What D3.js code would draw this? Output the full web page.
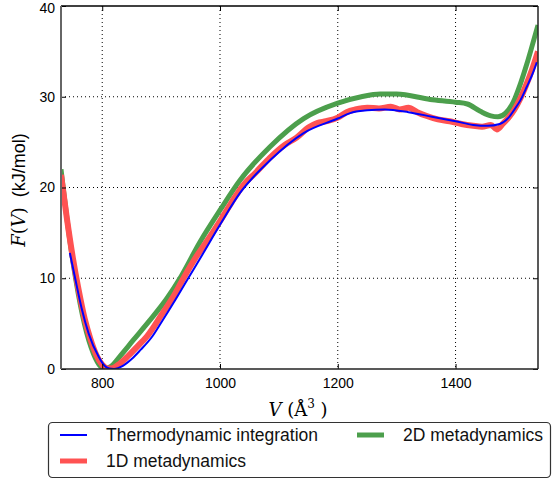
<!DOCTYPE html>
<html><head><meta charset="utf-8">
<script src="https://cdn.jsdelivr.net/npm/d3@7"></script>
<style>
html,body{margin:0;padding:0;background:#fff;}
svg text{font-family:"Liberation Sans",Arial,sans-serif;}
</style></head>
<body>
<svg id="chart" width="560" height="481"></svg>
<script>
// ---- data ----
const xTicks = [800, 1000, 1200, 1400];
const yTicks = [0, 10, 20, 30, 40];
const seriesNames = ["Thermodynamic integration", "1D metadynamics", "2D metadynamics"];

const tiV = [745,754,765,777,794,805,812,820,835,850,865,884,900,924,946,970,1000,1034,1085,1142,1200,1221,1250,1280,1320,1360,1400,1430,1455,1475,1490,1500,1510,1521,1530,1538];
const tiF = [12.8,10.0,6.7,3.9,1.35,0.3,0.05,0.0,0.35,1.1,2.1,3.5,5.1,7.6,10.0,12.6,15.9,19.4,23.0,26.0,27.6,28.2,28.5,28.6,28.3,27.8,27.3,26.9,26.8,27.0,27.7,28.6,29.6,31.1,32.4,33.8];

const md1V = [730,740,750,760,770,780,790,800,810,818,830,845,860,876,900,920,938,960,980,1000,1020,1040,1060,1085,1110,1130,1150,1165,1180,1200,1215,1230,1250,1270,1290,1305,1320,1335,1350,1370,1390,1410,1430,1445,1460,1470,1480,1490,1500,1510,1520,1530,1540];
const md1F = [21.4,16.6,12.3,8.7,5.6,3.3,1.55,0.46,0.05,0.1,0.6,1.5,2.5,3.6,5.9,7.9,10.0,12.4,14.3,16.3,18.4,20.3,21.6,23.3,24.7,25.5,26.6,27.1,27.3,27.7,28.3,28.6,28.8,28.7,28.9,28.6,28.8,28.3,27.9,27.5,27.3,27.0,26.8,26.7,26.9,26.4,27.0,27.7,28.6,29.8,31.3,33.0,35.0];

const md2V = [730,740,755,770,785,797,806,815,830,853,880,910,932,966,1000,1034,1085,1142,1200,1240,1272,1300,1357,1400,1420,1442,1460,1472,1485,1498,1510,1521,1530,1540];
const md2F = [22.0,16.6,9.9,4.9,1.7,0.3,0.05,0.3,1.4,3.2,5.3,7.8,10.0,14.0,17.5,20.8,24.5,27.6,29.3,30.0,30.3,30.3,29.7,29.4,29.2,28.4,27.9,27.8,28.2,29.4,31.4,33.6,35.6,37.9];

// ---- layout ----
const svg = d3.select("#chart");
const L = 61, R = 538, T = 6, B = 369;
const x = d3.scaleLinear().domain([730, 1540]).range([L, R]);
const y = d3.scaleLinear().domain([0, 40]).range([B, T]);

svg.append("defs").append("clipPath").attr("id","clip")
  .append("rect").attr("x",L).attr("y",T).attr("width",R-L).attr("height",B-T);

// grid
const g = svg.append("g");
g.selectAll(".gx").data(xTicks).enter().append("line")
  .attr("x1",d=>x(d)).attr("x2",d=>x(d)).attr("y1",T).attr("y2",B)
  .attr("stroke","#000").attr("stroke-width",1).attr("stroke-dasharray","1,3");
g.selectAll(".gy").data(yTicks.filter(d=>d>0 && d<40)).enter().append("line")
  .attr("y1",d=>y(d)).attr("y2",d=>y(d)).attr("x1",L).attr("x2",R)
  .attr("stroke","#000").attr("stroke-width",1).attr("stroke-dasharray","1,3");

// curves
const line = d3.line().x(d=>x(d[0])).y(d=>y(d[1])).curve(d3.curveMonotoneX);
const zip = (a,b)=>a.map((v,i)=>[v,b[i]]);
const plot = svg.append("g").attr("clip-path","url(#clip)");
plot.append("path").datum(zip(md2V,md2F)).attr("d",line)
  .attr("fill","none").attr("stroke","#4c9f4c").attr("stroke-width",5).attr("stroke-linejoin","round");
plot.append("path").datum(zip(md1V,md1F)).attr("d",line)
  .attr("fill","none").attr("stroke","#ff5252").attr("stroke-width",6).attr("stroke-linejoin","round");
plot.append("path").datum(zip(tiV,tiF)).attr("d",line)
  .attr("fill","none").attr("stroke","#0000ff").attr("stroke-width",2).attr("stroke-linejoin","round");

// axes
const fmt = d3.format("d");
const xAxis = svg.append("g").attr("transform",`translate(0,${B})`)
  .call(d3.axisBottom(x).tickValues(xTicks).tickSize(-5).tickPadding(9).tickFormat(fmt));
const yAxis = svg.append("g").attr("transform",`translate(${L},0)`)
  .call(d3.axisLeft(y).tickValues(yTicks).tickSize(-5).tickPadding(6).tickFormat(fmt));
svg.append("g").attr("transform",`translate(0,${T})`)
  .call(d3.axisTop(x).tickValues(xTicks).tickSize(-5).tickFormat(""));
svg.append("g").attr("transform",`translate(${R},0)`)
  .call(d3.axisRight(y).tickValues(yTicks).tickSize(-5).tickFormat(""));
svg.selectAll(".domain").remove();
svg.selectAll(".tick line").attr("stroke","#000");
[xAxis,yAxis].forEach(a=>a.selectAll("text").attr("font-size",14).attr("fill","#000")
  .style("font-family","'Liberation Sans',Arial,sans-serif"));
yAxis.selectAll(".tick").filter(d=>d===40).select("text").attr("dy","0.45em");

// frame
svg.append("line").attr("x1",L).attr("x2",R).attr("y1",T).attr("y2",T).attr("stroke","#000").attr("stroke-width",1.3);
svg.append("line").attr("x1",R).attr("x2",R).attr("y1",T).attr("y2",B).attr("stroke","#222").attr("stroke-width",1.5);
svg.append("line").attr("x1",L).attr("x2",R).attr("y1",B).attr("y2",B).attr("stroke","#222").attr("stroke-width",1.6);
svg.append("line").attr("x1",L).attr("x2",L).attr("y1",T).attr("y2",B).attr("stroke","#666").attr("stroke-width",2);

// axis labels
const serif = "'DejaVu Serif','Liberation Serif',serif";
const xl = svg.append("text").attr("x",298).attr("y",416).attr("text-anchor","middle")
  .attr("font-size",18).style("font-family",serif);
xl.append("tspan").attr("font-style","italic").text("V");
xl.append("tspan").text("\u00a0(Å");
xl.append("tspan").attr("dy",-8).attr("font-size",12).text("3");
xl.append("tspan").attr("dy",8).text("\u00a0)");

const yl = svg.append("text").attr("transform","translate(25,190) rotate(-90)")
  .attr("text-anchor","middle").attr("font-size",18);
yl.append("tspan").attr("font-style","italic").style("font-family",serif).text("F");
yl.append("tspan").style("font-family",serif).text("(");
yl.append("tspan").attr("font-style","italic").style("font-family",serif).text("V");
yl.append("tspan").style("font-family",serif).text(")");
yl.append("tspan").text("\u00a0\u00a0(kJ/mol)");

// legend
const lg = svg.append("g");
lg.append("rect").attr("x",48.5).attr("y",422.5).attr("width",502).attr("height",55)
  .attr("rx",4).attr("fill","#fff").attr("stroke","#333").attr("stroke-width",1.2);
const items = [
  {name:seriesNames[0], color:"#0000ff", w:2, lx:60, ly:435},
  {name:seriesNames[1], color:"#ff5252", w:5, lx:60, ly:461},
  {name:seriesNames[2], color:"#4c9f4c", w:5, lx:357, ly:435}
];
items.forEach(it=>{
  lg.append("line").attr("x1",it.lx).attr("x2",it.lx+27).attr("y1",it.ly).attr("y2",it.ly)
    .attr("stroke",it.color).attr("stroke-width",it.w);
  lg.append("text").attr("x",it.lx+46).attr("y",it.ly+6).attr("font-size",17.5).attr("fill","#111").text(it.name);
});
</script>
</body></html>
